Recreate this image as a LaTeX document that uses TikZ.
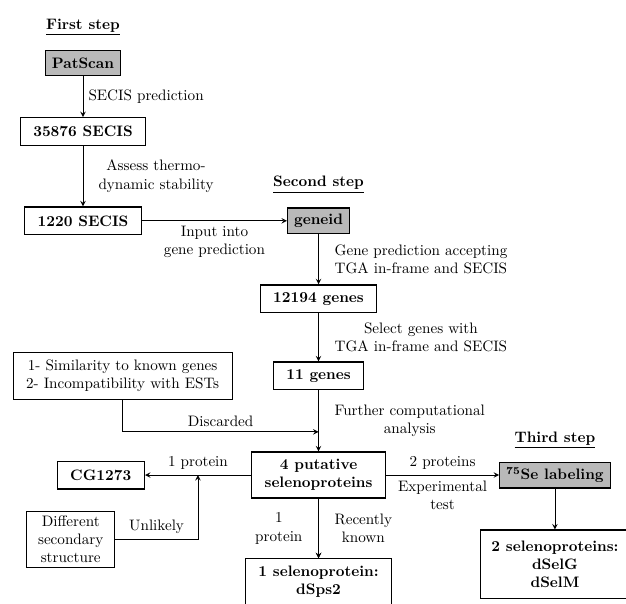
\documentclass[tikz,border=0pt]{standalone}
\usepackage{amsmath}
\usepackage{tikz}
\usetikzlibrary{arrows, calc, positioning}
\tikzstyle{block} = [rectangle, draw=black, line width=0.8pt, font=\bfseries, minimum height=18.3pt, inner xsep=8.6pt, inner ysep=4.8pt, align=center]
\tikzstyle{tool} = [rectangle, draw=black, line width=0.8pt, fill=gray!55, font=\bfseries, minimum height=17pt, inner xsep=4.3pt]
\tikzstyle{note} = [rectangle, draw=black, line width=0.6pt, align=center, inner sep=4pt]
\tikzstyle{steptitle} = [font=\bfseries]
\tikzstyle{arrow} = [line width=0.6pt,->,>=stealth]

\begin{document}
\begin{tikzpicture}[x=0.66pt, y=-0.66pt, node distance = 10mm, auto]
	\useasboundingbox (0,0) rectangle (626,603);
	% first step
	\node (PatScan) [tool] at (83,63) {PatScan};
	\node (FirstStep) [steptitle, above = 6pt of PatScan] {\underline{First step}};
	\node (SecisAll) [block, below = 26.8pt of PatScan] {35876 SECIS};
	\node (SecisStable) [block, below = 39.8pt of SecisAll] {1220 SECIS};
	% second step
	\node (Geneid) [tool, right = 95.7pt of SecisStable] {geneid};
	\node (SecondStep) [steptitle, above = 6pt of Geneid] {\underline{Second step}};
	\node (GenesAll) [block, below = 33pt of Geneid] {12194 genes};
	\node (GenesTGA) [block, below = 31.8pt of GenesAll] {11 genes};
	\node (Criteria) [note, left = 26.4pt of GenesTGA, minimum height=31pt, inner xsep=8.6pt] {1- Similarity to known genes\\2- Incompatibility with ESTs};
	\node (Putative) [block, below = 40.3pt of GenesTGA] {4 putative\\selenoproteins};
	\node (CG) [block, left = 70pt of Putative] {CG1273};
	\node (Structure) [note, below = 14pt of CG, xshift=-19.8pt, inner xsep=7.5pt, inner ysep=3pt] {Different\\secondary\\structure};
	\node (Sps) [block, below = 39.3pt of Putative] {1 selenoprotein:\\dSps2};
	% third step
	\node (Labeling) [tool, right = 74.6pt of Putative] {\textsuperscript{75}Se labeling};
	\node (ThirdStep) [steptitle, above = 5pt of Labeling] {\underline{Third step}};
	\node (SelGM) [block, below = 27pt of Labeling, inner xsep=7pt, inner ysep=7pt] {2 selenoproteins:\\dSelG\\dSelM};
	\coordinate (Join) at ($(GenesTGA.south)!0.68!(Putative.north)$);
	\coordinate (Meet) at ($(CG.east)!0.5!(Putative.west)$);
	\draw [arrow] (PatScan) -- node[right]{SECIS prediction}(SecisAll);
	\draw [arrow] (SecisAll) -- node[right, align=center, xshift=6.6pt]{Assess thermo-\\dynamic stability}(SecisStable);
	\draw [arrow] (SecisStable) -- node[below, align=center]{Input into\\gene prediction}(Geneid);
	\draw [arrow] (Geneid) -- node[right, align=left, xshift=7pt]{Gene prediction accepting\\TGA in-frame and SECIS}(GenesAll);
	\draw [arrow] (GenesAll) -- node[right, align=center, xshift=7pt]{Select genes with\\TGA in-frame and SECIS}(GenesTGA);
	\draw [arrow] (GenesTGA) -- node[right, align=center, xshift=7pt]{Further computational\\analysis}(Putative);
	\draw [arrow] (Criteria) |- node[pos=0.75, above]{Discarded}(Join);
	\draw [arrow] (Putative) -- node[above]{1 protein}(CG);
	\draw [arrow] (Structure) -| node[pos=0.25, above]{Unlikely}(Meet);
	\draw [arrow] (Putative) -- node[left, align=center, xshift=-7pt]{1\\protein}(Sps);
	\draw [arrow] (Putative) -- node[right, align=center, xshift=7pt]{Recently\\known}(Sps);
	\draw [arrow] (Putative) -- node[above]{2 proteins} node[below, align=center]{Experimental\\test}(Labeling);
	\draw [arrow] (Labeling) -- (SelGM);
\end{tikzpicture}
\end{document}
